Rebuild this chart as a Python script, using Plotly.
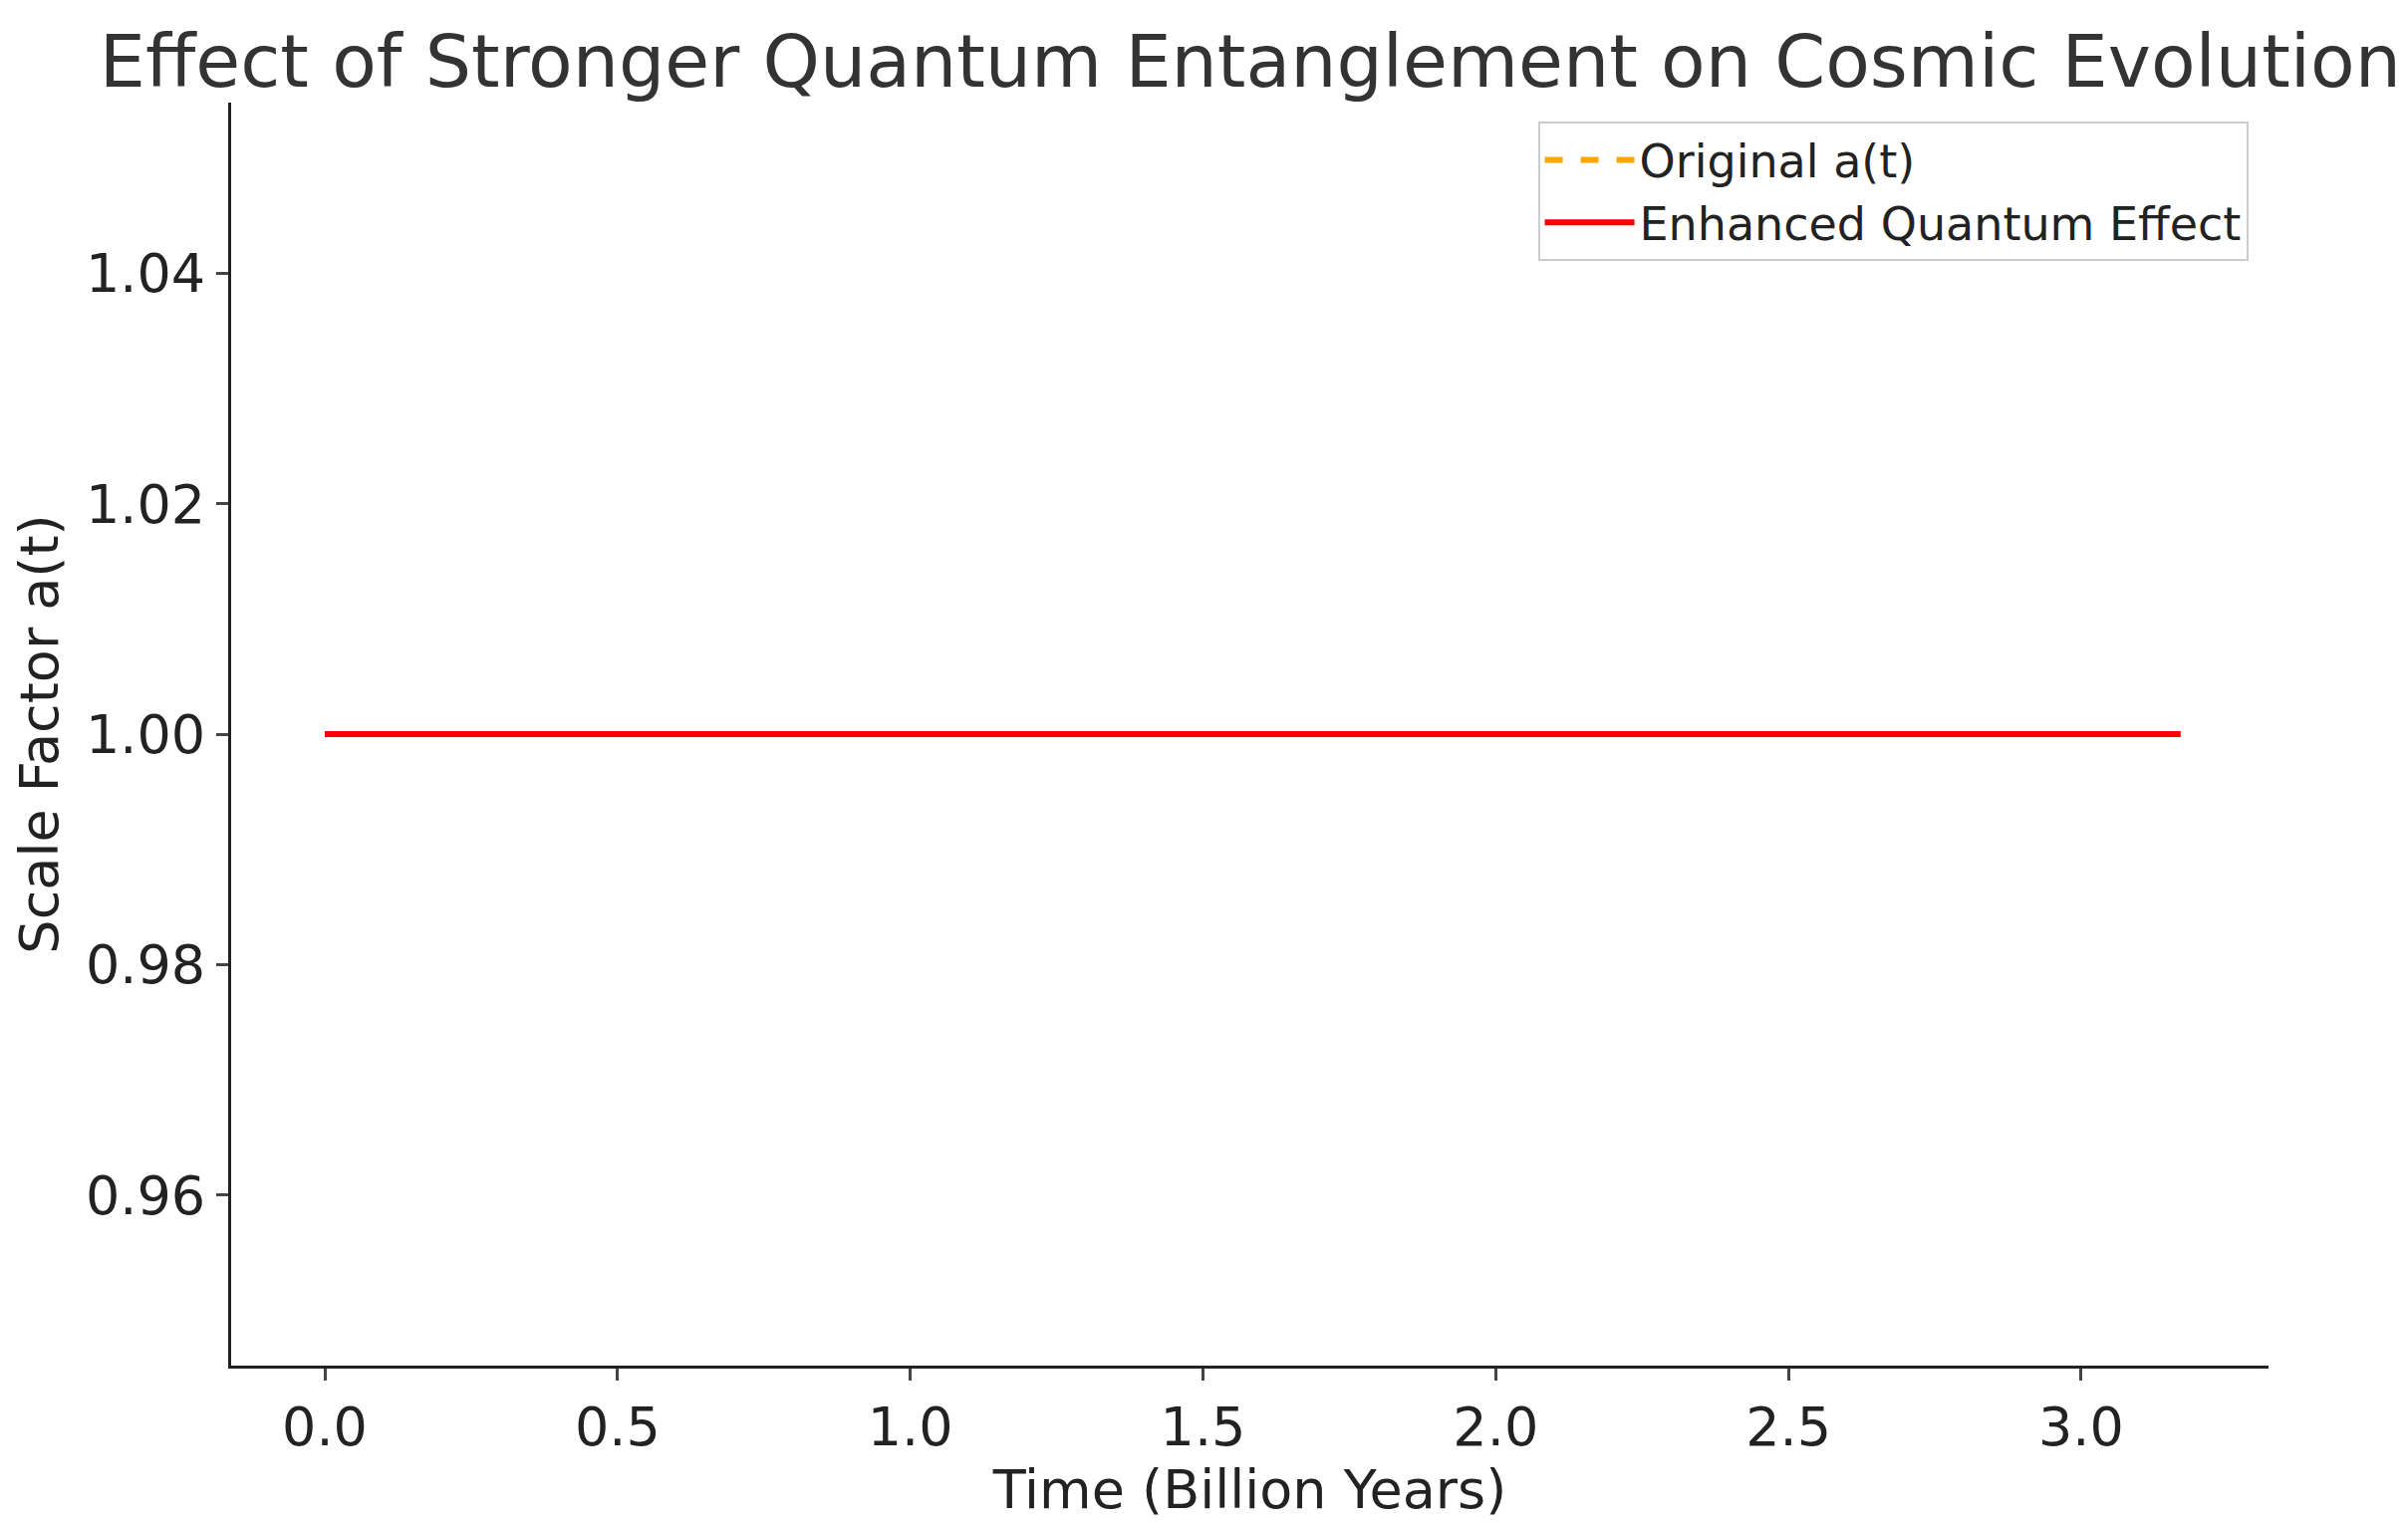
import plotly.graph_objects as go

time_gyr = [0.0, 0.5, 1.0, 1.5, 2.0, 2.5, 3.0, 3.17]
a_original = [1.0, 1.0, 1.0, 1.0, 1.0, 1.0, 1.0, 1.0]
a_enhanced = [1.0, 1.0, 1.0, 1.0, 1.0, 1.0, 1.0, 1.0]

fig = go.Figure()
fig.add_trace(go.Scatter(x=time_gyr, y=a_original, mode="lines", name="Original a(t)",
                         line=dict(color="orange", dash="dash", width=6)))
fig.add_trace(go.Scatter(x=time_gyr, y=a_enhanced, mode="lines", name="Enhanced Quantum Effect",
                         line=dict(color="red", width=6)))
font = "DejaVu Sans, Noto Sans, sans-serif"
fig.update_layout(
    width=2417, height=1528, paper_bgcolor="white", plot_bgcolor="white",
    font=dict(family=font, size=45, color="#222"),
    margin=dict(l=224, r=148, t=95, b=165),
    title=dict(text="Effect of Stronger Quantum Entanglement on Cosmic Evolution",
               x=0.038, xanchor="left", y=0.965, yanchor="middle",
               font=dict(size=73, color="#333")),
    xaxis=dict(range=[-0.16, 3.32], tickvals=[0, 0.5, 1, 1.5, 2, 2.5, 3], tickformat=".1f",
               showgrid=False, zeroline=False, showline=True, linecolor="#222", linewidth=3,
               ticks="outside", ticklen=12, tickwidth=3, tickfont=dict(size=54),
               title=dict(text="Time (Billion Years)", standoff=10)),
    yaxis=dict(range=[0.9452, 1.0548], tickvals=[0.96, 0.98, 1.0, 1.02, 1.04], tickformat=".2f",
               showgrid=False, zeroline=False, showline=True, linecolor="#222", linewidth=3,
               ticks="outside", ticklen=12, tickwidth=3, tickfont=dict(size=54),
               title=dict(text="Scale Factor a(t)", standoff=18)),
    legend=dict(x=0.99, y=0.985, xanchor="right", yanchor="top", bgcolor="white",
                bordercolor="#ccc", borderwidth=2, font=dict(size=46), itemwidth=90),
)
fig.write_html("out.html")
